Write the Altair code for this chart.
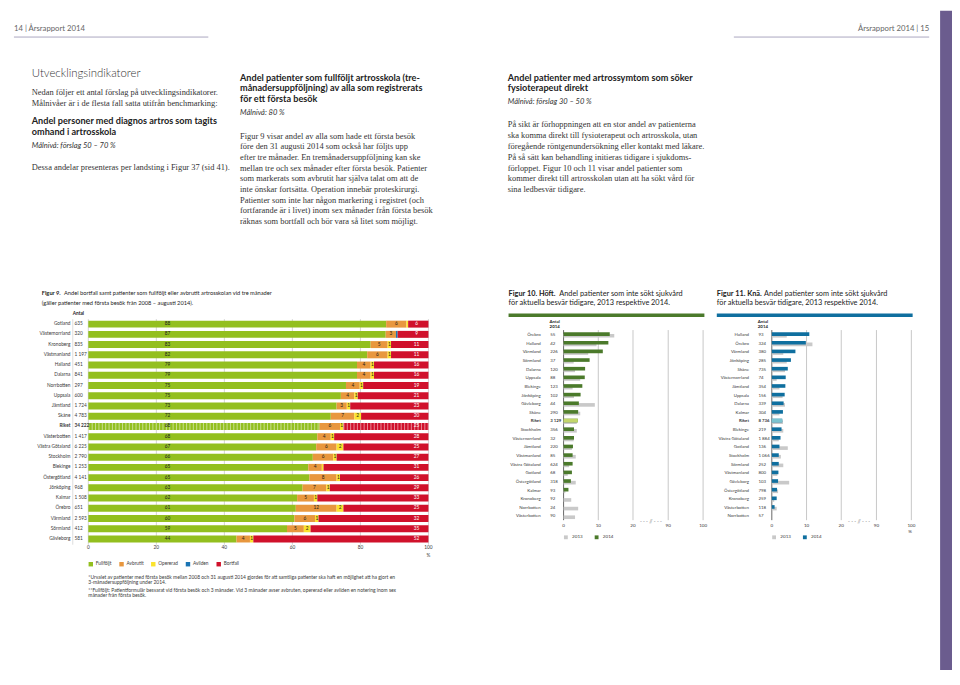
import altair as alt
import pandas as pd

SANS = "Lato"
SERIF = "Liberation Serif"
M = 8  # page margin
DARK = "#222222"
GREY = "#3a3a3a"

# ---------------- Figure 9 data ----------------
f9_regions = ["Gotland", "Västernorrland", "Kronoberg", "Västmanland", "Halland", "Dalarna",
              "Norrbotten", "Uppsala", "Jämtland", "Skåne", "Riket", "Västerbotten",
              "Västra Götaland", "Stockholm", "Blekinge", "Östergötland", "Jönköping",
              "Kalmar", "Örebro", "Värmland", "Sörmland", "Gävleborg"]
f9_antal = [635, 320, 835, 1197, 451, 841, 297, 600, 1724, 4783, 34222, 1417, 6225, 2790,
            1253, 4141, 968, 1508, 651, 2593, 412, 581]
f9_full = [88, 87, 83, 82, 79, 79, 75, 75, 73, 72, 68, 68, 67, 66, 65, 65, 63, 62, 61, 60, 59, 44]
f9_avbr = [6, 3, 5, 6, 4, 4, 4, 4, 3, 7, 6, 4, 6, 6, 4, 8, 7, 5, 12, 6, 5, 4]
f9_oper = [0.5, 0, 1, 1, 1, 1, 1, 1, 1, 2, 1, 1, 2, 1, 0.5, 1, 1, 1, 2, 1, 2, 1]
f9_avl = [0, 0.5, 0, 0, 0, 0, 0, 0, 0, 0, 0, 0, 0, 0, 0, 0, 0, 0, 0, 0, 0, 0]
f9_bort = [6, 9, 11, 11, 16, 16, 19, 21, 23, 20, 25, 28, 25, 27, 31, 26, 29, 33, 25, 32, 35, 52]
f9_cats = ["Fullföljt", "Avbrutit", "Opererad", "Avliden", "Bortfall"]
f9_colors = ["#93bf1f", "#e8973e", "#fbe32d", "#1a74b4", "#d0112b"]
f9_ticks = [0, 20, 40, 60, 80, 100]

# ---------------- Figure 10 (Höft) data ----------------
f10_regions = ["Örebro", "Halland", "Värmland", "Sörmland", "Dalarna", "Uppsala", "Blekinge",
               "Jönköping", "Gävleborg", "Skåne", "Riket", "Stockholm", "Västernorrland",
               "Jämtland", "Västmanland", "Västra Götaland", "Gotland", "Östergötland",
               "Kalmar", "Kronoberg", "Norrbotten", "Västerbotten"]
f10_antal = [55, 42, 226, 37, 120, 88, 123, 102, 44, 290, 3129, 356, 32, 220, 85, 624, 68,
             318, 93, 92, 24, 90]
f10_2014 = [13.3, 12.9, 11.3, 7.5, 6.2, 6.1, 5.4, 4.9, 4.4, 4.2, 4.1, 3.0, 3.0, 2.7, 2.6, 2.6,
            2.4, 2.1, 1.4, 0, 0, 0]
f10_2013 = [14.6, 9.5, 7.1, 2.9, 3.3, 4.8, 2.6, 3.0, 9.0, 4.8, 3.8, 3.8, 2.9, 2.4, 3.5, 1.6,
            1.2, 3.5, 0.5, 2.2, 4.2, 3.3]

# ---------------- Figure 11 (Knä) data ----------------
f11_regions = ["Halland", "Örebro", "Värmland", "Jönköping", "Skåne", "Västernorrland",
               "Jämtland", "Uppsala", "Dalarna", "Kalmar", "Riket", "Blekinge",
               "Västra Götaland", "Gotland", "Stockholm", "Sörmland", "Västmanland",
               "Gävleborg", "Östergötland", "Kronoberg", "Västerbotten", "Norrbotten"]
f11_antal = [93, 324, 380, 285, 735, 74, 354, 156, 339, 304, 8736, 219, 1884, 136, 1066, 252,
             800, 103, 798, 259, 118, 57]
f11_2014 = [10.8, 9.8, 6.8, 5.5, 4.6, 4.0, 3.9, 3.7, 3.4, 3.2, 3.0, 2.8, 2.5, 2.2, 2.0, 2.0,
            1.9, 1.8, 1.5, 1.4, 0.8, 0]
f11_2013 = [4.3, 11.7, 3.3, 4.3, 3.8, 1.4, 2.2, 3.1, 3.8, 2.2, 3.2, 3.3, 2.0, 4.6, 2.6, 3.3,
            1.6, 5.0, 1.8, 0.7, 1.4, 0]
small_ticks = [0, 10, 20, 90, 100]
years = ["2013", "2014"]

# ---------------- page texts ----------------
left_intro = ["Nedan följer ett antal förslag på utvecklingsindikatorer.",
              "Målnivåer är i de flesta fall satta utifrån benchmarking:"]
left_head = ["Andel personer med diagnos artros som tagits", "omhand i artrosskola"]
mid_head = ["Andel patienter som fullföljt artrosskola (tre-",
            "månadersuppföljning) av alla som registrerats", "för ett första besök"]
mid_body = ["Figur 9 visar andel av alla som hade ett första besök",
            "före den 31 augusti 2014 som också har följts upp",
            "efter tre månader. En tremånadersuppföljning kan ske",
            "mellan tre och sex månader efter första besök. Patienter",
            "som markerats som avbrutit har själva talat om att de",
            "inte önskar fortsätta. Operation innebär proteskirurgi.",
            "Patienter som inte har någon markering i registret (och",
            "fortfarande är i livet) inom sex månader från första besök",
            "räknas som bortfall och bör vara så litet som möjligt."]
right_head = ["Andel patienter med artrossymtom som söker", "fysioterapeut direkt"]
right_body = ["På sikt är förhoppningen att en stor andel av patienterna",
              "ska komma direkt till fysioterapeut och artrosskola, utan",
              "föregående röntgenundersökning eller kontakt med läkare.",
              "På så sätt kan behandling initieras tidigare i sjukdoms-",
              "förloppet. Figur 10 och 11 visar andel patienter som",
              "kommer direkt till artrosskolan utan att ha sökt vård för",
              "sina ledbesvär tidigare."]
foot = ["*Urvalet av patienter med första besök mellan 2008 och 31 augusti 2014 gjordes för att samtliga patienter ska haft en möjlighet att ha gjort en",
        "3-månadersuppföljning under 2014.",
        "**Fullföljt: Patientformulär besvarat vid första besök och 3 månader. Vid 3 månader avser avbruten, opererad eller avliden en notering inom sex",
        "månader från första besök."]

ONE = pd.DataFrame({"k": [0]})
L = []


def fmt(n):
    return f"{n:,}".replace(",", " ")


def text(s, x, y, size, font=SANS, weight="normal", style="normal", color=GREY,
         align="left", baseline="middle"):
    L.append(alt.Chart(ONE).mark_text(align=align, baseline=baseline, font=font, fontSize=size,
                                      fontWeight=weight, fontStyle=style, color=color)
             .encode(x=alt.value(x - M), y=alt.value(y - M), text=alt.value(s)))


def para(lines, x, y0, dy, size, **kw):
    for i, s in enumerate(lines):
        text(s, x, y0 + i * dy, size, **kw)


def hline(x1, x2, y, color, w):
    L.append(alt.Chart(ONE).mark_rule(color=color, strokeWidth=w)
             .encode(x=alt.value(x1 - M), x2=alt.value(x2 - M), y=alt.value(y - M)))


def vline(x, y1, y2, color, w):
    L.append(alt.Chart(ONE).mark_rule(color=color, strokeWidth=w)
             .encode(x=alt.value(x - M), y=alt.value(y1 - M), y2=alt.value(y2 - M)))


# ---------------- page furniture ----------------
L.append(alt.Chart(ONE).mark_rect(color="#6b5c8e").encode(
    x=alt.value(948 - M), x2=alt.value(960 - M), y=alt.value(0), y2=alt.value(670)))
text("14 | Årsrapport 2014", 14, 26, 7.8, color="#666666")
text("Årsrapport 2014 | 15", 937, 26, 7.8, color="#666666", align="right")
hline(14, 210, 34.5, "#aaa6bf", 1)
hline(740, 937, 34.5, "#aaa6bf", 1)

BODY = 8.5
HEAD = 9.2
GOAL = 7.6
text("Utvecklingsindikatorer", 32, 72, 11.5, weight=300, color="#333333")
para(left_intro, 32, 90, 10.7, BODY, font=SERIF, color="#333333")
para(left_head, 32, 119.3, 10.7, HEAD, weight="bold", color=DARK)
text("Målnivå: förslag 50 – 70 %", 32, 144, GOAL, style="italic", color="#333333")
text("Dessa andelar presenteras per landsting i Figur 37 (sid 41).", 32, 165.7, BODY,
     font=SERIF, color="#333333")

para(mid_head, 242, 76, 10.3, HEAD, weight="bold", color=DARK)
text("Målnivå: 80 %", 242, 110.7, GOAL, style="italic", color="#333333")
para(mid_body, 242, 134, 10.75, BODY, font=SERIF, color="#333333")

para(right_head, 512, 76, 10.3, HEAD, weight="bold", color=DARK)
text("Målnivå: förslag 30 – 50 %", 512, 100, GOAL, style="italic", color="#333333")
para(right_body, 512, 122.7, 10.85, BODY, font=SERIF, color="#333333")

# ---------------- Figure 9 ----------------
X9 = alt.Scale(domain=[0, 1], range=[89 - M, 432 - M], nice=False, zero=False)
X9p = alt.Scale(domain=[0, 100], range=[89 - M, 432 - M], nice=False, zero=False)
Y9 = alt.Scale(domain=[0, 21], range=[324 - M, 540.7 - M], nice=False, zero=False)

rows = []
for i, r in enumerate(f9_regions):
    for j, (c, vals) in enumerate(zip(f9_cats, [f9_full, f9_avbr, f9_oper, f9_avl, f9_bort])):
        rows.append({"region": r, "row": i, "cat": c, "order": j, "value": vals[i]})
df9 = pd.DataFrame(rows)
df9r = pd.DataFrame({"region": f9_regions, "row": list(range(len(f9_regions))),
                     "antal": [fmt(a) for a in f9_antal]})
df9t = pd.DataFrame({"t": f9_ticks})

F9T = 5.75
text("Figur 9.", 42, 293, F9T, weight="bold", color=DARK)
text("Andel bortfall samt patienter som fullföljt eller avbrutit artrosskolan vid tre månader",
     64.5, 293, F9T, color=DARK)
text("(gäller patienter med första besök från 2008 – augusti 2014).", 42, 302.5, F9T, color=DARK)
text("Antal", 79, 314, 4.8, weight="bold", color=DARK, align="center")

L.append(alt.Chart(df9t).mark_rule(color="#c9c9c9", strokeWidth=0.8).encode(
    x=alt.X("t:Q", scale=X9p, axis=None), y=alt.value(319 - M), y2=alt.value(546.5 - M)))
vline(73.3, 319, 546.5, "#d5d5d5", 0.8)

stack9 = alt.Chart(df9).transform_stack(
    stack="value", groupby=["region"], sort=[alt.SortField("order", order="ascending")],
    as_=["x0", "x1"], offset="normalize").transform_calculate(
    ya="datum.row - 0.34", yb="datum.row + 0.34")

L.append(stack9.mark_bar().encode(
    x=alt.X("x0:Q", scale=X9, axis=None), x2="x1:Q",
    y=alt.Y("ya:Q", scale=Y9, axis=None), y2="yb:Q",
    color=alt.Color("cat:N", scale=alt.Scale(domain=f9_cats, range=f9_colors),
                    legend=alt.Legend(title=None, orient="none", legendX=89 - M, legendY=563.5 - M,
                                      direction="horizontal", symbolType="square",
                                      symbolSize=20, symbolStrokeWidth=0, labelFont=SANS,
                                      labelFontSize=4.8, labelColor=GREY, labelOffset=2.5,
                                      columnPadding=7, padding=0))))
L.append(stack9.transform_filter(
    "datum.region == 'Riket' && (datum.cat == 'Fullföljt' || datum.cat == 'Bortfall')")
    .mark_rule(color="white", strokeWidth=7, strokeDash=[1.0, 2.4], opacity=0.5).encode(
    x=alt.X("x0:Q", scale=X9, axis=None), x2="x1:Q", y=alt.Y("row:Q", scale=Y9, axis=None)))
L.append(stack9.transform_filter("datum.value >= 1").transform_calculate(
    lx="datum.cat == 'Fullföljt' ? 0.233 : (datum.cat == 'Bortfall' ? 0.965 : (datum.x0 + datum.x1) / 2)")
    .mark_text(font=SANS, fontSize=4.8, baseline="middle", align="center").encode(
    x=alt.X("lx:Q", scale=X9, axis=None), y=alt.Y("row:Q", scale=Y9, axis=None),
    text=alt.Text("value:Q", format="d"),
    color=alt.condition("datum.cat == 'Bortfall'", alt.value("white"), alt.value("#1a1a1a"))))

for bold in (False, True):
    flt = "datum.region == 'Riket'" if bold else "datum.region != 'Riket'"
    w = "bold" if bold else "normal"
    base = alt.Chart(df9r).transform_filter(flt)
    L.append(base.mark_text(font=SANS, fontSize=4.8, fontWeight=w, align="right",
                            baseline="middle", color=GREY).encode(
        x=alt.value(71 - M), y=alt.Y("row:Q", scale=Y9, axis=None), text="region:N"))
    L.append(base.mark_text(font=SANS, fontSize=4.8, fontWeight=w, align="left",
                            baseline="middle", color=GREY).encode(
        x=alt.value(75 - M), y=alt.Y("row:Q", scale=Y9, axis=None), text="antal:N"))

L.append(alt.Chart(df9t).mark_text(font=SANS, fontSize=4.8, color=GREY, baseline="middle").encode(
    x=alt.X("t:Q", scale=X9p, axis=None), y=alt.value(549.5 - M), text="t:Q"))
text("%", 432, 558, 4.8, align="center")
para(foot[:2], 89, 578.7, 5.2, 5.0)
para(foot[2:], 89, 592, 5.2, 5.0)


# ---------------- Figures 10 & 11 ----------------
def small_fig(x0, regions, antal, v13, v14, dark, light, title_bold, title_rest_x, pct):
    xr = [x0 - M, x0 + 70 - M, x0 + 105.5 - M, x0 + 140.7 - M]
    X = alt.Scale(domain=[0, 20, 90, 100], range=xr, nice=False, zero=False)
    Y = alt.Scale(domain=[0, 21], range=[335 - M, 518 - M], nice=False, zero=False)
    tx = x0 - 55.5
    FT = 7.4
    text(title_bold, tx, 294, FT, weight="bold", color=DARK)
    text("Andel patienter som inte sökt sjukvård", title_rest_x, 294, FT, color=DARK)
    text("för aktuella besvär tidigare, 2013 respektive 2014.", tx, 303.2, FT, color=DARK)
    hline(tx, tx + 197.5, 315, dark, 3.4)
    text("Antal", x0 - 9, 321.8, 4.4, weight="bold", color=DARK, align="center")
    text("2014", x0 - 9, 326.8, 4.4, weight="bold", color=DARK, align="center")

    tk = pd.DataFrame({"t": small_ticks})
    L.append(alt.Chart(tk).transform_filter("datum.t > 0").mark_rule(
        color="#b9b9b9", strokeWidth=0.8).encode(
        x=alt.X("t:Q", scale=X, axis=None), y=alt.value(330 - M), y2=alt.value(521.7 - M)))
    vline(x0, 330, 521.7, "#555555", 0.9)

    rows = []
    for yr, vals in zip(years, [v13, v14]):
        for i, r in enumerate(regions):
            rows.append({"region": r, "row": i, "year": yr, "value": vals[i]})
    d = pd.DataFrame(rows)
    bars = alt.Chart(d).transform_calculate(
        z="0", yc="datum.row + (datum.year == '2014' ? -0.105 : 0.085)").transform_calculate(
        ya="datum.yc - 0.21", yb="datum.yc + 0.21")
    L.append(bars.mark_bar().encode(
        x=alt.X("value:Q", scale=X, axis=None), x2="z:Q",
        y=alt.Y("ya:Q", scale=Y, axis=None), y2="yb:Q",
        color=alt.Color("year:N", scale=alt.Scale(domain=years, range=["#c9c9c9", dark]),
                        legend=alt.Legend(title=None, orient="none", legendX=x0 - M,
                                          legendY=536.3 - M, direction="horizontal",
                                          symbolType="square", symbolSize=15,
                                          symbolStrokeWidth=0, labelFont=SANS,
                                          labelFontSize=4.6, labelColor=GREY, labelOffset=4,
                                          columnPadding=11, padding=0))))
    L.append(bars.transform_filter("datum.region == 'Riket' && datum.year == '2014'")
             .mark_bar(color=light).encode(
        x=alt.X("value:Q", scale=X, axis=None), x2="z:Q",
        y=alt.Y("ya:Q", scale=Y, axis=None), y2="yb:Q"))

    dr = pd.DataFrame({"region": regions, "row": list(range(len(regions))),
                       "antal": [fmt(a) for a in antal]})
    for bold in (False, True):
        flt = "datum.region == 'Riket'" if bold else "datum.region != 'Riket'"
        w = "bold" if bold else "normal"
        base = alt.Chart(dr).transform_filter(flt)
        L.append(base.mark_text(font=SANS, fontSize=4.4, fontWeight=w, align="right",
                                baseline="middle", color=GREY).encode(
            x=alt.value(x0 - 23 - M), y=alt.Y("row:Q", scale=Y, axis=None), text="region:N"))
        L.append(base.mark_text(font=SANS, fontSize=4.4, fontWeight=w, align="left",
                                baseline="middle", color=GREY).encode(
            x=alt.value(x0 - 13.5 - M), y=alt.Y("row:Q", scale=Y, axis=None), text="antal:N"))

    L.append(alt.Chart(tk).mark_text(font=SANS, fontSize=4.6, color=GREY, baseline="middle").encode(
        x=alt.X("t:Q", scale=X, axis=None), y=alt.value(527.3 - M), text="t:Q"))
    text("- - - // - - -", x0 + 88, 522.5, 5, color="#777777", align="center")
    if pct:
        text("%", x0 + 139.5, 533.5, 4.6, align="center")


small_fig(568.3, f10_regions, f10_antal, f10_2013, f10_2014, "#4b7a2b", "#c3d66b",
          "Figur 10. Höft.", 564, False)
small_fig(778.3, f11_regions, f11_antal, f11_2013, f11_2014, "#0f6f9f", "#7cc4cf",
          "Figur 11. Knä.", 770.5, True)

chart = alt.layer(*L).resolve_scale(
    x="independent", y="independent", color="independent"
).properties(
    width=952, height=662, padding=0, autosize=alt.AutoSizeParams(type="none"),
    background="white"
).configure_view(stroke=None)

chart.save("out.html", embed_options={"renderer": "svg", "actions": False})
